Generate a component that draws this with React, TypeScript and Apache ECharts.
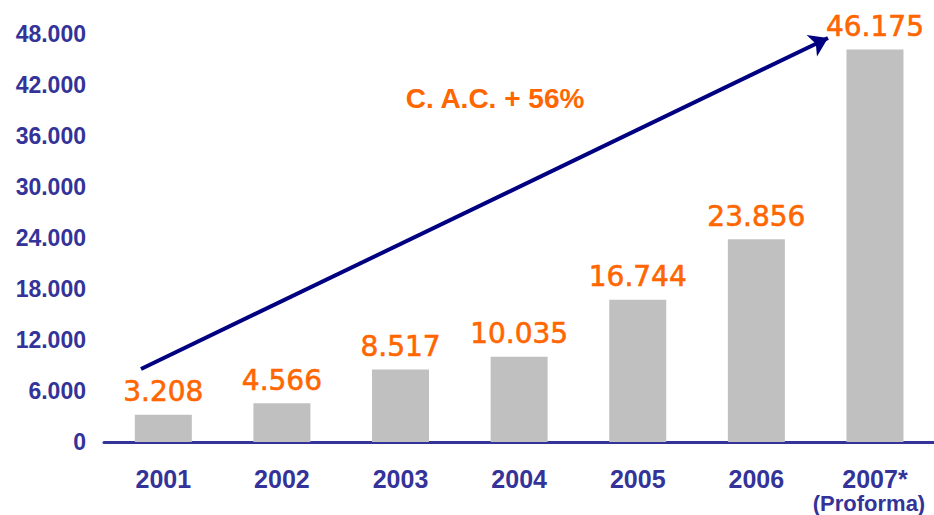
import React, { useEffect, useRef } from "react";
import * as echarts from "echarts";

const years = ["2001", "2002", "2003", "2004", "2005", "2006", "2007*"];
const values = [3208, 4566, 8517, 10035, 16744, 23856, 46175];
const yTicks = { min: 0, max: 48000, interval: 6000 };
const growthLabel = "C. A.C. + 56%";
const proformaNote = "(Proforma)";

const NAVY = "#333399";
const ORANGE = "#FF6600";

const fmt = (v: number) =>
  Math.round(v)
    .toString()
    .replace(/\B(?=(\d{3})+(?!\d))/g, ".");

export default function App() {
  const ref = useRef<HTMLDivElement>(null);

  useEffect(() => {
    if (!ref.current) return;
    const chart = echarts.init(ref.current, undefined, { renderer: "svg" });
    chart.setOption({
      animation: false,
      backgroundColor: "#ffffff",
      grid: { left: 104, right: 3, top: 34, bottom: 73, containLabel: false },
      xAxis: {
        type: "category",
        data: years,
        axisLine: { show: true, lineStyle: { color: NAVY, width: 3 } },
        axisTick: { show: false },
        axisLabel: {
          margin: 25,
          formatter: (v: string) =>
            v === "2007*" ? `{a|${v}}\n{b|${proformaNote}}` : `{a|${v}}`,
          rich: {
            a: {
              fontFamily: "Liberation Sans, Arial, sans-serif",
              fontWeight: "bold",
              fontSize: 25,
              lineHeight: 24,
              color: NAVY,
            },
            b: {
              fontFamily: "Liberation Sans, Arial, sans-serif",
              fontWeight: "bold",
              fontSize: 22,
              lineHeight: 25,
              padding: [0, 12, 0, 0],
              color: NAVY,
            },
          },
        },
      },
      yAxis: {
        type: "value",
        min: yTicks.min,
        max: yTicks.max,
        interval: yTicks.interval,
        axisLine: { show: false },
        axisTick: { show: false },
        splitLine: { show: false },
        axisLabel: {
          margin: 18,
          formatter: (v: number) => fmt(v),
          fontFamily: "Liberation Sans, Arial, sans-serif",
          fontWeight: "bold",
          fontSize: 23,
          color: NAVY,
        },
      },
      series: [
        {
          type: "bar",
          data: values,
          barWidth: 57,
          itemStyle: { color: "#C0C0C0" },
          label: {
            show: true,
            position: "top",
            distance: 9,
            formatter: (p: any) => fmt(p.value),
            fontFamily: "DejaVu Sans, Verdana, sans-serif",
            fontWeight: "normal",
            fontSize: 28,
            color: ORANGE,
            textBorderColor: ORANGE,
            textBorderWidth: 0.6,
          },
          markLine: {
            silent: true,
            symbol: ["none", "arrow"],
            symbolSize: 18,
            label: { show: false },
            lineStyle: { color: "#000080", width: 4, type: "solid" },
            data: [[{ x: 141, y: 369 }, { x: 828, y: 38 }]],
          },
        },
      ],
      graphic: [
        {
          type: "text",
          x: 495,
          y: 98,
          style: {
            text: growthLabel,
            fill: ORANGE,
            font: "bold 28px 'Liberation Sans', Arial, sans-serif",
            textAlign: "center",
            textVerticalAlign: "middle",
          },
        },
      ],
    });
    return () => chart.dispose();
  }, []);

  return (
    <div
      ref={ref}
      style={{ position: "fixed", left: 0, top: 0, width: 940, height: 515 }}
    />
  );
}
